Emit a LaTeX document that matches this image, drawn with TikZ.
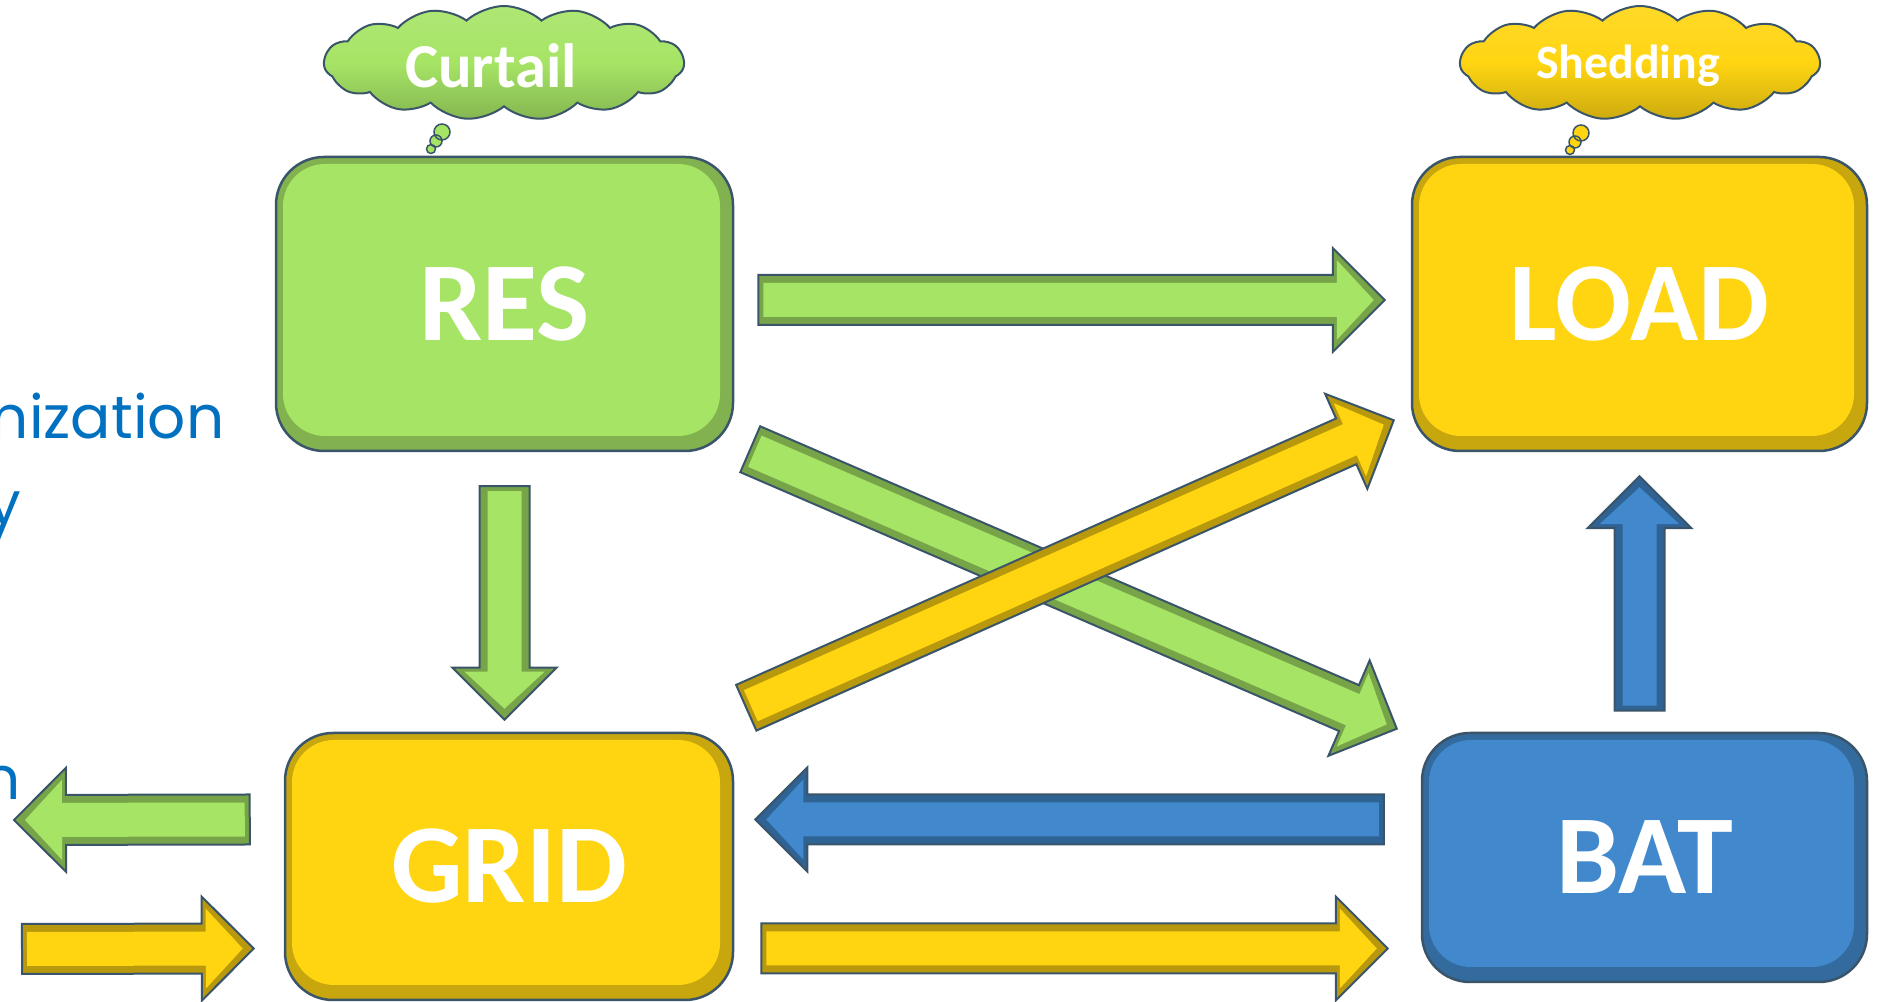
\documentclass[tikz,border=0pt]{standalone}
\usepackage{fontspec}
\setmainfont{Carlito}
\newfontfamily\gothicfont{Poppins}
\usetikzlibrary{positioning, calc, shapes.symbols}
\definecolor{eGreen}{HTML}{A6E465}
\definecolor{eYellow}{HTML}{FFD512}
\definecolor{eBlue}{HTML}{4189CC}
\definecolor{eEdge}{HTML}{3A5569}
\definecolor{eText}{HTML}{0070C0}

% bevelled block arrow from tail #2 to tip #3
\newcommand\flowarrow[3]{%
  \coordinate (fa-t) at #2;
  \coordinate (fa-h) at #3;
  \coordinate (fa-m) at ($(fa-h)!5.2mm!(fa-t)$);
  \coordinate (fa-t2) at ($(fa-t)!0.5mm!(fa-h)$);
  \coordinate (fa-m2) at ($(fa-m)!0.4mm!(fa-h)$);
  \coordinate (fa-h2) at ($(fa-h)!1.1mm!(fa-t)$);
  \filldraw[draw=eEdge, line width=0.2mm, fill=#1!72!black, line join=miter]
    ($(fa-t)!2.5mm!90:(fa-h)$) -- ($(fa-m)!2.5mm!90:(fa-h)$)
    -- ($(fa-m)!5.2mm!90:(fa-h)$) -- (fa-h)
    -- ($(fa-m)!5.2mm!-90:(fa-h)$) -- ($(fa-m)!2.5mm!-90:(fa-h)$)
    -- ($(fa-t)!2.5mm!-90:(fa-h)$) -- cycle;
  \fill[#1]
    ($(fa-t2)!1.7mm!90:(fa-h)$) -- ($(fa-m2)!1.7mm!90:(fa-h)$)
    -- ($(fa-m2)!4.0mm!90:(fa-h)$) -- (fa-h2)
    -- ($(fa-m2)!4.0mm!-90:(fa-h)$) -- ($(fa-m2)!1.7mm!-90:(fa-h)$)
    -- ($(fa-t2)!1.7mm!-90:(fa-h)$) -- cycle;
}

\begin{document}
\begin{tikzpicture}[
  x=0.1mm, y=-0.1mm,
  block/.style={rounded corners=4.8mm, draw=eEdge, line width=0.25mm,
                fill=#1!78!black, text=white, inner sep=0pt,
                font=\fontsize{32}{38}\selectfont\bfseries,
                path picture={\fill[#1, rounded corners=4.2mm]
                  ($(path picture bounding box.south west)+(0.7mm,1.5mm)$) rectangle
                  ($(path picture bounding box.north east)+(-1.3mm,-0.7mm)$);}},
  thought/.style={cloud, cloud puffs=15, cloud puff arc=85, aspect=3.2,
                  draw=eEdge, line width=0.2mm, top color=#1!90!white,
                  bottom color=#1!80!black, middle color=#1,
                  minimum width=36mm, minimum height=11.4mm, inner sep=0pt},
  thoughttext/.style={text=white, inner sep=0pt},
  bubble/.style={fill=#1, draw=eEdge, line width=0.15mm},
  lefttext/.style={text=eText, font=\gothicfont\fontsize{17}{20}\selectfont,
                   anchor=base east, inner sep=0pt},
]
  \useasboundingbox (0,0) rectangle (1877,1002);
  \clip (0,0) rectangle (1877,1002);

  % left margin text
  \node[lefttext] (leftA) at (225,439) {nization};
  \node[lefttext] (leftB) at (22,525) {y};
  \node[lefttext] (leftC) at (21,800) {n};

  % blocks
  \node[block=eGreen, minimum width=45.7mm, minimum height=29.4mm] (res) at (504.5,304) {RES};
  \node[block=eYellow, minimum width=45.5mm, minimum height=29.4mm] (load) at (1639.5,304) {LOAD};
  \node[block=eYellow, minimum width=44.8mm, minimum height=26.7mm] (grid) at (509,866.5) {GRID};
  \node[block=eBlue, minimum width=44.5mm, minimum height=24.9mm] (bat) at (1644.5,857.5) {BAT};

  % thought clouds
  \node[thought=eGreen] (curtail) at (504,63) {};
  \node[thoughttext, font=\fontsize{17.8}{20}\selectfont\bfseries] (curtailText)
    at ($(curtail)+(-13,3)$) {Curtail};
  \filldraw[bubble=eGreen] (442,132) circle (0.8mm) (436,141) circle (0.6mm) (431,149) circle (0.45mm);
  \node[thought=eYellow] (shed) at (1640,63) {};
  \node[thoughttext, font=\fontsize{13.6}{16}\selectfont\bfseries] (shedText)
    at ($(shed)+(-12,3)$) {Shedding};
  \filldraw[bubble=eYellow] (1581,133) circle (0.8mm) (1575,142) circle (0.6mm) (1570,150) circle (0.45mm);

  % flows from RES
  \flowarrow{eGreen}{($(res.east)+(24,-4)$)}{($(load.west)+(-26,-4)$)}
  \flowarrow{eGreen}{($(res.south)+(0,34)$)}{($(res.south |- grid.north)+(0,-12)$)}
  \flowarrow{eGreen}{($(res.south east)+(16,-3)$)}{($(bat.north west)+(-24,-3)$)}

  % GRID to LOAD, drawn over the green one
  \flowarrow{eYellow}{($(grid.north east)+(12,-24)$)}{($(load.south west)+(-17,-32)$)}

  % flows from BAT
  \flowarrow{eBlue}{($(load.south |- bat.north)+(0,-21)$)}{($(load.south)+(0,24)$)}
  \flowarrow{eBlue}{($(bat.west)+(-37,-38)$)}{($(grid.east)+(21,-47)$)}

  % GRID to BAT
  \flowarrow{eYellow}{($(grid.east)+(27,82)$)}{($(bat.west)+(-33,91)$)}

  % export and import
  \coordinate (exportEnd) at (14,820);
  \coordinate (importStart) at (22,949);
  \flowarrow{eGreen}{($(grid.west)+(-34,-47)$)}{(exportEnd)}
  \flowarrow{eYellow}{(importStart)}{($(grid.west)+(-30,82)$)}
\end{tikzpicture}
\end{document}
